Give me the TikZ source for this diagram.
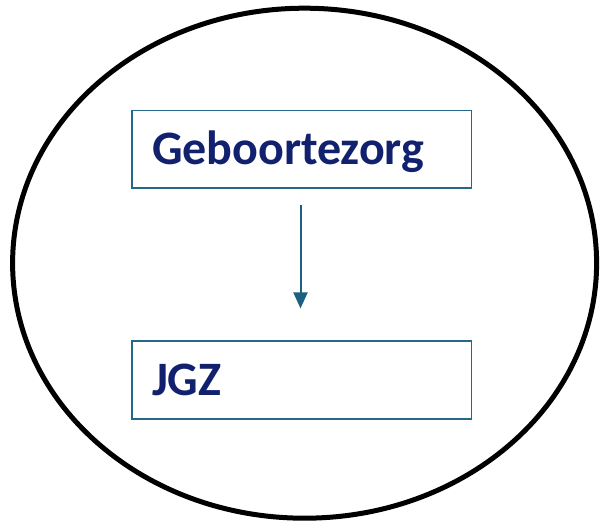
\documentclass[tikz,border=0pt]{standalone}
\usepackage{fontspec}
\setmainfont{Carlito}
\usetikzlibrary{arrows.meta,shapes.geometric}
\definecolor{navytext}{RGB}{17,33,110}
\definecolor{boxline}{RGB}{38,104,136}
\definecolor{arrowcol}{RGB}{27,96,128}
\begin{document}
\begin{tikzpicture}[x=1pt,y=-1pt,
  stagebox/.style={draw=boxline, line width=1.6pt, rectangle,
    minimum width=339.5pt, minimum height=77.5pt,
    text width=299.5pt, inner xsep=20pt, inner ysep=0pt, align=left,
    text height=36pt, text depth=4.6pt,
    font=\fontsize{48}{52}\selectfont\bfseries, text=navytext},
  flowarrow/.style={draw=arrowcol, line width=2pt,
    -{Triangle[width=14pt,length=16pt]}}
]
\useasboundingbox (0,0) rectangle (600,521);
\node[draw=black, line width=5pt, ellipse, minimum width=584pt, minimum height=510pt, inner sep=0pt] (outer) at (304.6,263.2) {};
\node[stagebox] (geb) at (301.75,149.3) {Geboortezorg};
\node[stagebox] (jgz) at (301.75,380) {JGZ};
\coordinate (axis) at (300.5,0);
\draw[flowarrow, shorten <=16pt, shorten >=32pt] (geb.south -| axis) -- (jgz.north -| axis);
\end{tikzpicture}
\end{document}
